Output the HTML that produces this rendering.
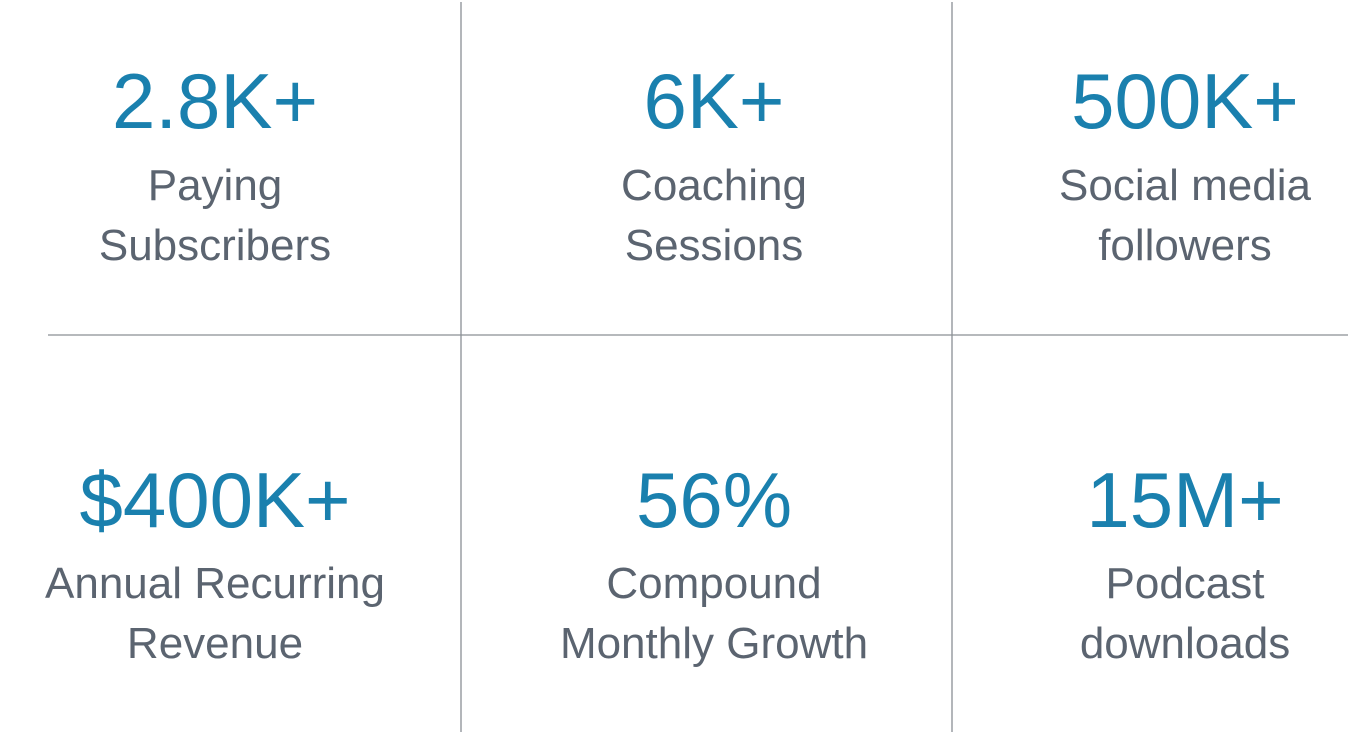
<!DOCTYPE html>
<html><head><meta charset="utf-8"><style>
html,body{margin:0;padding:0;background:#fff;width:1360px;height:734px;overflow:hidden}
svg{display:block}
.n{font-family:"Liberation Sans",sans-serif;font-size:78px;fill:#1a80ae;text-anchor:middle}
.l{font-family:"Liberation Sans",sans-serif;font-size:44px;fill:#5b6470;text-anchor:middle}
</style></head><body>
<svg width="1360" height="734">
<line x1="461" y1="2" x2="461" y2="732" stroke="#8a8f95" stroke-width="1.3"/>
<line x1="952" y1="2" x2="952" y2="732" stroke="#8a8f95" stroke-width="1.3"/>
<line x1="48" y1="335" x2="1348" y2="335" stroke="#8a8f95" stroke-width="1.3"/>
<g>
<text class="n" x="215" y="128">2.8K+</text>
<text class="l" x="215" y="200">Paying</text>
<text class="l" x="215" y="260">Subscribers</text></g>
<g>
<text class="n" x="714" y="128">6K+</text>
<text class="l" x="714" y="200">Coaching</text>
<text class="l" x="714" y="260">Sessions</text></g>
<g>
<text class="n" x="1185" y="128">500K+</text>
<text class="l" x="1185" y="200">Social media</text>
<text class="l" x="1185" y="260">followers</text></g>
<g>
<text class="n" x="215" y="527">$400K+</text>
<text class="l" x="215" y="598">Annual Recurring</text>
<text class="l" x="215" y="658">Revenue</text></g>
<g>
<text class="n" x="714" y="527">56%</text>
<text class="l" x="714" y="598">Compound</text>
<text class="l" x="714" y="658">Monthly Growth</text></g>
<g>
<text class="n" x="1185" y="527">15M+</text>
<text class="l" x="1185" y="598">Podcast</text>
<text class="l" x="1185" y="658">downloads</text></g>
</svg>
</body></html>
